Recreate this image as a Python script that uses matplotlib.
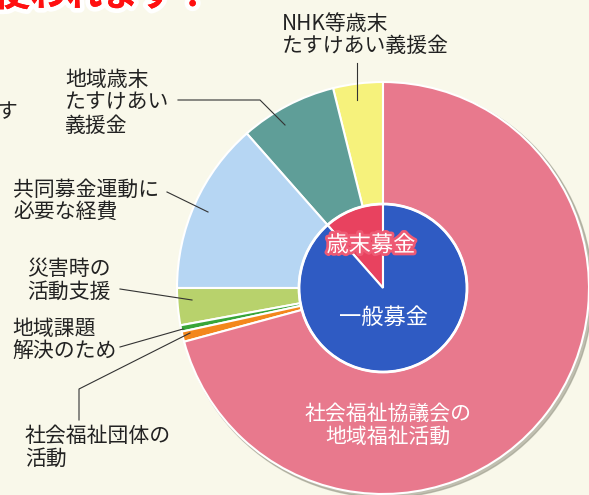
import numpy as np
import matplotlib.pyplot as plt
import matplotlib.patheffects as pe
from matplotlib.patches import Circle

plt.rcParams['font.family'] = ['Noto Sans CJK JP', 'DejaVu Sans']

# --- data (shares in %) ---
outer_labels = ['NHK等歳末\nたすけあい義援金', '地域歳末\nたすけあい\n義援金',
                '共同募金運動に\n必要な経費', '災害時の\n活動支援',
                '地域課題\n解決のため', '社会福祉団体の\n活動',
                '社会福祉協議会の\n地域福祉活動']
outer_values = [3.9, 7.6, 13.5, 2.9, 0.5, 0.8, 70.8]
outer_colors = ['#f6f27c', '#5f9e98', '#b6d6f3', '#b8d26c', '#38a538', '#f3871c', '#e8798d']

inner_labels = ['歳末募金', '一般募金']
inner_values = [11.5, 88.5]
inner_colors = ['#e8425f', '#2f5bc3']

W, H = 589, 495
bg = '#f9f8ea'

def Y(y):
    # picture rows -> axis units
    return H - y

fig = plt.figure(figsize=(W / 100, H / 100), dpi=100, facecolor=bg)
ax = fig.add_axes([0, 0, 1, 1])

cx, cy = 383, Y(288)
R, r = 206, 84

# soft shadow under the big pie
ax.add_patch(Circle((cx + 2.5, cy - 2.5), R + 1, color='#9a9a8a', alpha=0.6, zorder=0))

ax.pie(outer_values, colors=outer_colors, startangle=90, counterclock=True,
       radius=R, center=(cx, cy), frame=True,
       wedgeprops=dict(edgecolor='white', linewidth=1.5))
ax.pie(inner_values, colors=inner_colors, startangle=90, counterclock=True,
       radius=r, center=(cx, cy), frame=True,
       wedgeprops=dict(edgecolor='white', linewidth=1.5))
ax.add_patch(Circle((cx, cy), r, fill=False, edgecolor='white', linewidth=2, zorder=5))

ax.set_xlim(0, W)
ax.set_ylim(0, H)
ax.set_aspect('equal')
ax.axis('off')

fs = 15
ls = 1.05
txt = dict(fontsize=fs, color='#222222', linespacing=ls, ha='left', va='center')
line = dict(color='#333333', lw=0.8)

# label positions: (x, y of block centre)
pos = [(282, 35), (65, 103), (13, 201), (27, 280), (12, 340), (25, 447)]
for lab, (x, y) in zip(outer_labels[:6], pos):
    ax.text(x, Y(y), lab, **txt)

# leader lines
ax.plot([357, 357], [Y(63), Y(100)], **line)
ax.plot([178, 260, 285], [Y(100), Y(100), Y(125)], **line)
ax.plot([167, 208], [Y(192), Y(212)], **line)
ax.plot([120, 192], [Y(289), Y(300)], **line)
ax.plot([120, 183], [Y(347), Y(329)], **line)
ax.plot([79, 79, 190], [Y(420), Y(389), Y(333)], **line)

# texts inside the pie
ax.text(388, Y(425), outer_labels[6], fontsize=fs, color='white', ha='center',
        va='center', linespacing=ls, zorder=6)
ax.text(371, Y(245), inner_labels[0], fontsize=16, color='white', ha='center',
        va='center', zorder=6,
        path_effects=[pe.withStroke(linewidth=4, foreground='#ee5a74')])
ax.text(383, Y(317), inner_labels[1], fontsize=16, color='white', ha='center',
        va='center', zorder=6)

# cut-off fragments at the page edges (as in the scan)
ax.text(-3, Y(112), 'す', fontsize=fs, color='#222222', ha='left', va='center')
ax.text(-6, Y(6), '使われます！', fontsize=26, fontweight='bold', color='#ff1010',
        ha='left', va='baseline',
        path_effects=[pe.withStroke(linewidth=7, foreground='white'),
                      pe.SimpleLineShadow(offset=(2, -2), shadow_color='#888888', alpha=0.9),
                      pe.Normal()])

fig.savefig('out.png', dpi=100, facecolor=bg)
